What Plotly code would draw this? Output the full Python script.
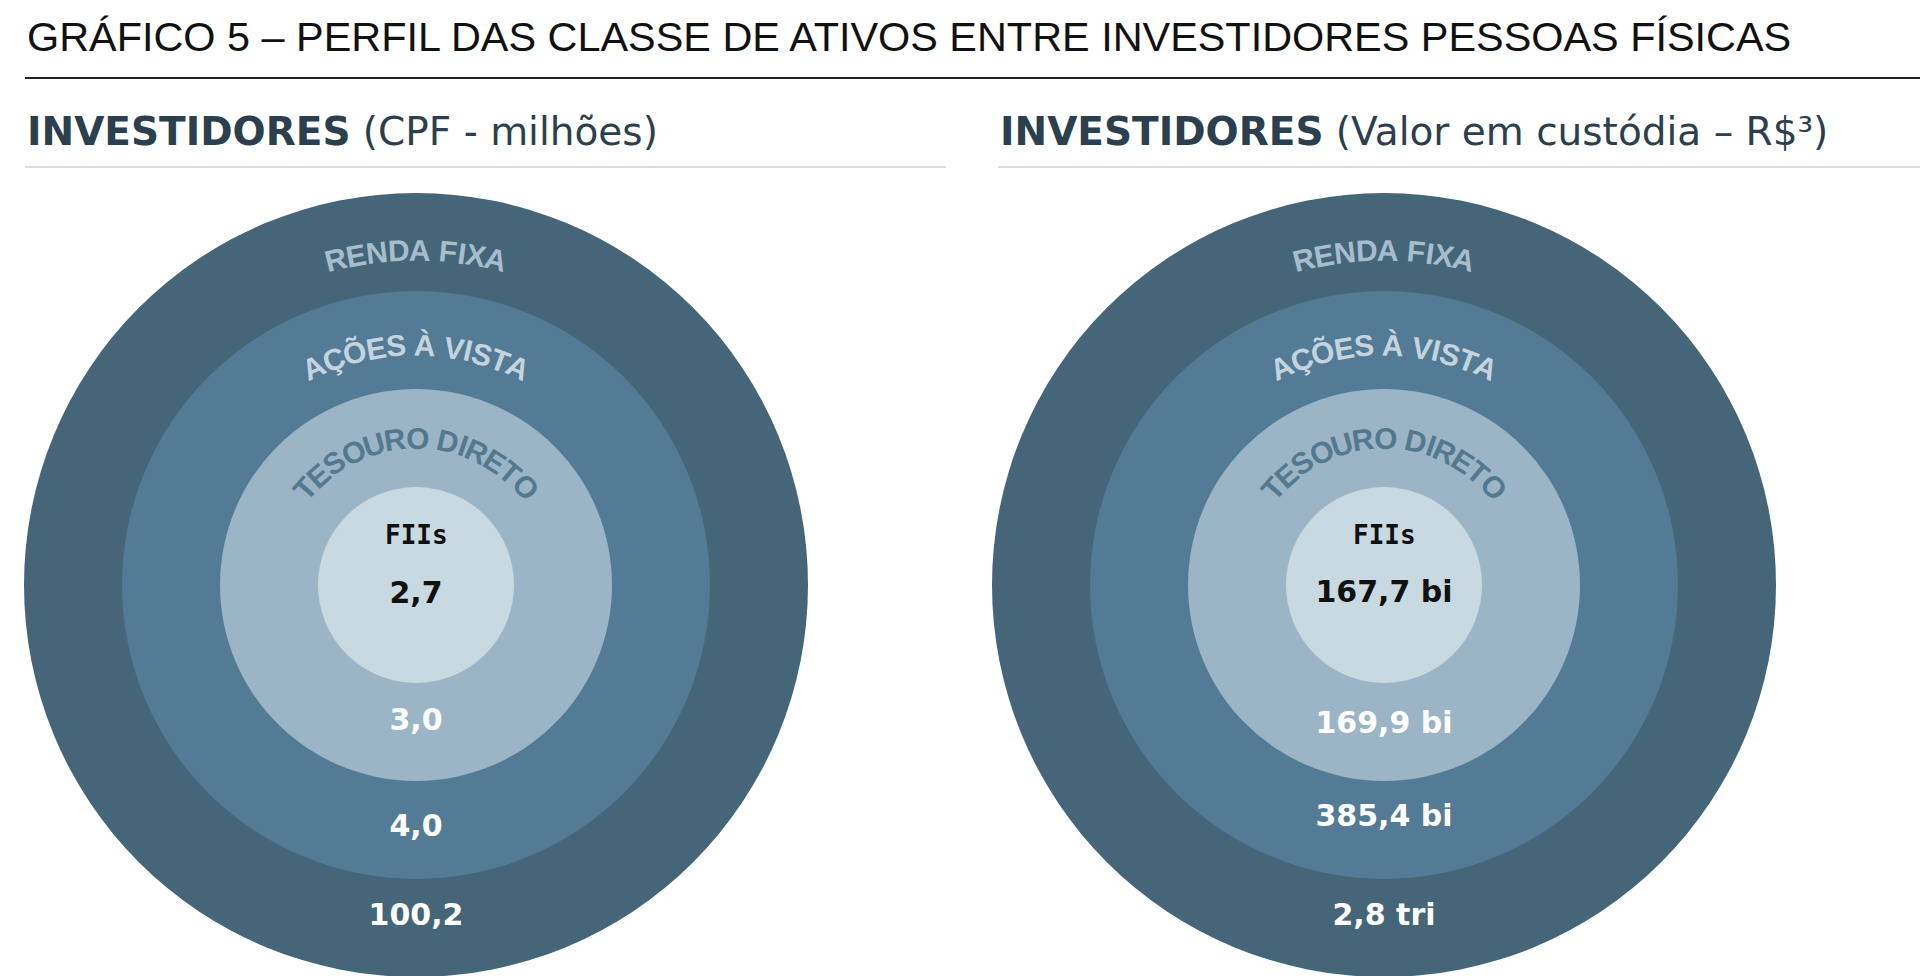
import math
import plotly.graph_objects as go

# ─────────────────────────────────────────
# DADOS (do anel interno para o externo)
# ─────────────────────────────────────────
CLASSES = ["FIIs", "TESOURO DIRETO", "AÇÕES À VISTA", "RENDA FIXA"]
CPF_MILHOES = [2.7, 3.0, 4.0, 100.2]
CUSTODIA_VALOR = [167.7, 169.9, 385.4, 2.8]
CUSTODIA_UNIDADE = ["bi", "bi", "bi", "tri"]

TITULO = "GRÁFICO 5 – PERFIL DAS CLASSE DE ATIVOS ENTRE INVESTIDORES PESSOAS FÍSICAS"
SUBTITULOS = ["(CPF - milhões)", "(Valor em custódia – R$³)"]

# ─────────────────────────────────────────
# ESTILO
# ─────────────────────────────────────────
W, H = 1920, 976
U = 98                     # pixels por anel
CX_PX = [416, 1384]        # centro de cada círculo (px)
CY_PX = 585

CORES_ANEIS = ["#c9d9e2", "#9bb5c7", "#537b95", "#456579"]
CORES_ARCO = [None, "#54798f", "#c3d4de", "#a6bdcc"]
RAIO_ARCO_PX = [None, 147, 240, 335]
COR_SUB = "#2b3f4e"
FONTE = "Liberation Sans, Arial, sans-serif"
FONTE_SUB = "DejaVu Sans, sans-serif"

# deslocamento vertical (px, para baixo do centro) dos valores
DESLOC_VALORES = [
    [10, 137, 243, 332],
    [9, 140, 233, 332],
]

# larguras aproximadas (em) da fonte negrito, para distribuir as letras no arco
LARG = {"A": .722, "Ç": .722, "Õ": .778, "E": .667, "S": .667, " ": .278, "À": .722,
        "V": .667, "I": .278, "T": .611, "R": .722, "N": .722, "D": .722, "F": .611,
        "X": .667, "O": .778, "U": .722}
FS_ARCO = 30


def px2x(px):
    return (px - CX_PX[0]) / U


def py2y(py):
    return (CY_PX - py) / U


def fmt(v):
    return f"{v:.1f}".replace(".", ",")


fig = go.Figure()
shapes = []
annotations = []

rotulos_valores = [
    [fmt(v) for v in CPF_MILHOES],
    [f"{fmt(v)} {u}" for v, u in zip(CUSTODIA_VALOR, CUSTODIA_UNIDADE)],
]

for p, cxp in enumerate(CX_PX):
    cx = px2x(cxp)
    cy = 0.0

    # anéis: do externo para o interno
    for i in reversed(range(len(CLASSES))):
        r = i + 1
        shapes.append(dict(
            type="circle", xref="x", yref="y",
            x0=cx - r, x1=cx + r, y0=cy - r, y1=cy + r,
            fillcolor=CORES_ANEIS[i], line=dict(width=0), layer="below",
        ))

    # valores
    fig.add_trace(go.Scatter(
        x=[cx] * len(CLASSES),
        y=[cy - d / U for d in DESLOC_VALORES[p]],
        mode="text",
        text=rotulos_valores[p],
        textposition="middle center",
        textfont=dict(family="DejaVu Sans, sans-serif", size=30, weight="bold",
                      color=["#111111"] + ["#ffffff"] * (len(CLASSES) - 1)),
        hoverinfo="skip",
        showlegend=False,
    ))

    # rótulo FIIs
    annotations.append(dict(
        x=cx, y=cy + 50 / U, xref="x", yref="y", text="<b>FIIs</b>",
        showarrow=False, font=dict(family="DejaVu Sans Mono, monospace", size=26, color="#111111"),
        xanchor="center", yanchor="middle",
    ))

    # rótulos curvos
    for i in range(1, len(CLASSES)):
        nome = CLASSES[i]
        rr = RAIO_ARCO_PX[i]
        larg = [LARG.get(c, .7) * FS_ARCO for c in nome]
        total = sum(larg)
        acum = 0
        for c, w in zip(nome, larg):
            s = acum + w / 2 - total / 2
            acum += w
            if c == " ":
                continue
            phi = s / rr
            annotations.append(dict(
                x=cx + rr * math.sin(phi) / U,
                y=cy + rr * math.cos(phi) / U,
                xref="x", yref="y", text=f"<b>{c}</b>",
                showarrow=False, textangle=math.degrees(phi),
                font=dict(family=FONTE, size=FS_ARCO, color=CORES_ARCO[i]),
                xanchor="center", yanchor="middle",
            ))

# título e linha
annotations.append(dict(
    x=25 / W, y=1 - 37 / H, xref="paper", yref="paper", text=TITULO,
    showarrow=False, xanchor="left", yanchor="middle",
    font=dict(family=FONTE, size=41.4, color="#111111"),
))
shapes.append(dict(type="line", xref="paper", yref="paper",
                   x0=25 / W, x1=1, y0=1 - 78 / H, y1=1 - 78 / H,
                   line=dict(color="#222222", width=2)))

# subtítulos e linhas claras
for x0, x1, sub in [(25, 946, SUBTITULOS[0]), (998, 1920, SUBTITULOS[1])]:
    annotations.append(dict(
        x=x0 / W, y=1 - 132 / H, xref="paper", yref="paper",
        text=f"<b>INVESTIDORES</b> {sub}",
        showarrow=False, xanchor="left", yanchor="middle",
        font=dict(family=FONTE_SUB, size=39, color=COR_SUB),
    ))
    shapes.append(dict(type="line", xref="paper", yref="paper",
                       x0=x0 / W, x1=x1 / W, y0=1 - 167 / H, y1=1 - 167 / H,
                       line=dict(color="#d3dfe7", width=2)))

fig.update_layout(
    width=W, height=H,
    margin=dict(l=0, r=0, t=0, b=0),
    paper_bgcolor="white", plot_bgcolor="white",
    xaxis=dict(range=[px2x(0), px2x(W)], visible=False, fixedrange=True, domain=[0, 1]),
    yaxis=dict(range=[py2y(H), py2y(0)], visible=False, fixedrange=True, domain=[0, 1]),
    shapes=shapes,
    annotations=annotations,
    showlegend=False,
)

fig.write_html("out.html", config={"displayModeBar": False},
               post_script="document.body.style.margin='0';")
